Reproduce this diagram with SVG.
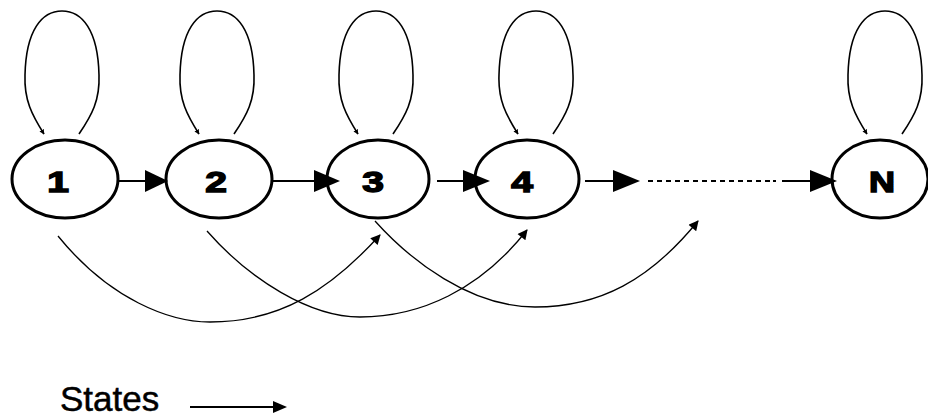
<svg xmlns="http://www.w3.org/2000/svg" width="928" height="419" viewBox="0 0 928 419">
<style>
.node{fill:none;stroke:#000;stroke-width:3}
.lbl{font-family:"Liberation Sans",Arial,sans-serif;font-weight:bold;font-size:30px;text-anchor:middle;fill:#000;stroke:#000;stroke-width:1.5}
.edge{fill:none;stroke:#000;stroke-width:2}
.loop{fill:none;stroke:#000;stroke-width:1.6}
.arc{fill:none;stroke:#000;stroke-width:1.3}
.dash{fill:none;stroke:#000;stroke-width:2;stroke-dasharray:5 4}
.head{fill:#000}
</style>
<defs>
<path id="lp" d="M17,134 C30,115 38,100 37,75 C36,30 20,11 0,11 C-20,11 -36,30 -37,75 C-38,100 -30,115 -18,134"/>
<marker id="sm" viewBox="0 0 10 10" refX="9" refY="5" markerWidth="12" markerHeight="10" markerUnits="userSpaceOnUse" orient="auto"><path d="M0,0 L10,5 L0,10 Z" fill="#000"/></marker>
<marker id="lh" viewBox="0 0 10 10" refX="9" refY="5" markerWidth="5" markerHeight="5" markerUnits="userSpaceOnUse" orient="auto"><path d="M0,0 L10,5 L0,10 Z" fill="#000"/></marker>
</defs>
<g id="connectors">
<use href="#lp" class="loop" x="62" marker-end="url(#lh)"/>
<use href="#lp" class="loop" x="217" marker-end="url(#lh)"/>
<use href="#lp" class="loop" x="376" marker-end="url(#lh)"/>
<use href="#lp" class="loop" x="536" marker-end="url(#lh)"/>
<use href="#lp" class="loop" x="885" marker-end="url(#lh)"/>
<path class="edge" d="M118,181 H150"/><path class="head" d="M145,170 L168,181 L145,192 Z"/>
<path class="edge" d="M273,181 H318"/><path class="head" d="M314,170 L340,181 L314,192 Z"/>
<path class="edge" d="M437,181 H466"/><path class="head" d="M463,170 L490,181 L463,192 Z"/>
<path class="edge" d="M585,181 H616"/><path class="head" d="M613,170 L640,181 L613,192 Z"/>
<path class="dash" d="M648,181 H770"/><path class="edge" d="M773,181 H776"/>
<path class="edge" d="M782,181 H812"/><path class="head" d="M810,170 L837,181 L810,192 Z"/>
<path class="arc" d="M58,236 C110,300 170,322 210,322 C280,322 330,290 380,235" marker-end="url(#sm)"/>
<path class="arc" d="M207,231 C250,280 310,317 360,317 C420,317 480,290 527,230" marker-end="url(#sm)"/>
<path class="arc" d="M375,221 C410,260 470,307 535,307 C600,307 650,280 698,221" marker-end="url(#sm)"/>
<path class="edge" d="M190,407 H276"/><path class="head" d="M273,401 L287,407 L273,413 Z"/>
</g>
<g id="n1"><ellipse class="node" cx="65" cy="179" rx="53" ry="39"/><text class="lbl" transform="translate(58,192) scale(1.3,1)">1</text></g>
<g id="n2"><ellipse class="node" cx="219" cy="179" rx="53" ry="39"/><text class="lbl" transform="translate(216,192) scale(1.3,1)">2</text></g>
<g id="n3"><ellipse class="node" cx="378" cy="179" rx="51" ry="39"/><text class="lbl" transform="translate(373,192) scale(1.3,1)">3</text></g>
<g id="n4"><ellipse class="node" cx="527" cy="179" rx="52" ry="39"/><text class="lbl" transform="translate(522,192) scale(1.3,1)">4</text></g>
<g id="nN"><ellipse class="node" cx="880" cy="179" rx="48" ry="39"/><text class="lbl" transform="translate(882,192) scale(1.2,1)">N</text></g>
<g id="legend"><text x="60" y="411" font-family="Liberation Sans, Arial, sans-serif" font-size="35" fill="#000" stroke="#000" stroke-width="0.5">States</text></g>
</svg>
